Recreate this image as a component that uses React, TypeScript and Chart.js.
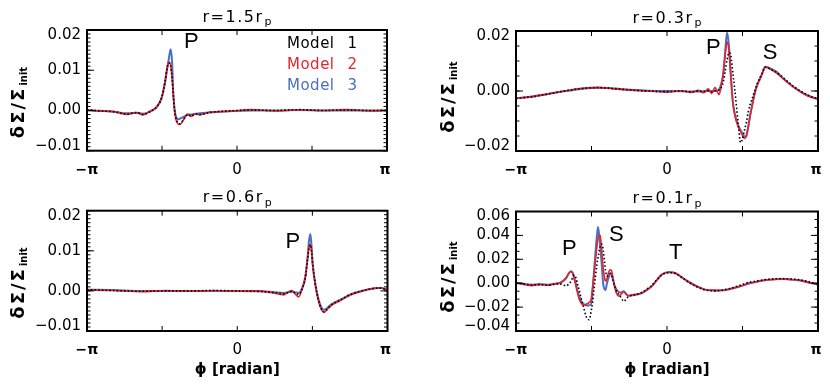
import React, { useEffect, useRef } from "react";
import { Chart, registerables } from "chart.js";

Chart.register(...registerables);

const PI = Math.PI;

// ---------------- shared ----------------
const modelNames = ["Model 1", "Model 2", "Model 3"];
const modelColors = ["#000000", "#e5242b", "#4a6fc3"];
const xTickValues = [-PI, 0, PI];
const xTickLabels = ["\u2212\u03c0", "0", "\u03c0"];
const xTickMarks = [-PI / 2, 0, PI / 2];
const xAxisTitle = "\u03d5 [radian]";
const yTitleMain = "\u03b4\u03a3/\u03a3";
const yTitleSub = "init";

// ---------------- panel A : r = 1.5 rp ----------------
const titleA = ["r=1.5r", "p"];
const yRangeA = [-0.01, 0.02];
const yTicksA = [-0.01, 0, 0.01, 0.02];
const yMinorA = 0.001;
const noteTextA = ["P"];
const notePhiA = [-0.957];
const noteValA = [0.017];
const phiA = [-3.14, -2.87, -2.6, -2.3, -2.1, -1.97, -1.82, -1.68, -1.58, -1.51, -1.46, -1.43, -1.39, -1.36, -1.335, -1.31, -1.28, -1.23, -1.19, -1.12, -1.03, -0.96, -0.88, -0.78, -0.57, -0.15, 0.3, 0.8, 1.3, 1.8, 2.3, 2.8, 3.14];
const m1A = [0.0002, -0.0001, -0.0003, -0.0009, -0.0005, -0.001, -0.0003, 0.0009, 0.0031, 0.0069, 0.0107, 0.0118, 0.0111, 0.0082, 0.0041, 0.0005, -0.0018, -0.0031, -0.0033, -0.0022, -0.001, -0.0014, -0.0009, -0.001, -0.0005, -0.0001, 0.0001, 0.0, 0.0002, 0.0, 0.0001, 0.0, 0.0];
const m2A = [0.0001, -0.0002, -0.0002, -0.001, -0.0005, -0.0011, -0.0002, 0.001, 0.0032, 0.0071, 0.0109, 0.012, 0.0113, 0.008, 0.0038, 0.0002, -0.0022, -0.0034, -0.0035, -0.0023, -0.0009, -0.0015, -0.0008, -0.0011, -0.0004, -0.0002, 0.0002, -0.0001, 0.0001, 0.0, 0.0002, -0.0001, 0.0];
const m3A = [0.0, -0.0001, -0.0003, -0.0007, -0.0006, -0.0008, -0.0003, 0.0008, 0.003, 0.0067, 0.0105, 0.0127, 0.0152, 0.0121, 0.0046, 0.0005, -0.0015, -0.0022, -0.002, -0.0016, -0.0011, -0.001, -0.0008, -0.0007, -0.0005, -0.0002, 0.0, 0.0, 0.0001, 0.0, 0.0, 0.0, 0.0];

// ---------------- panel B : r = 0.3 rp ----------------
const titleB = ["r=0.3r", "p"];
const yRangeB = [-0.02, 0.02];
const yTicksB = [-0.02, 0, 0.02];
const yMinorB = 0.005;
const noteTextB = ["P", "S"];
const notePhiB = [0.963, 2.143];
const noteValB = [0.0145, 0.0126];
const phiB = [-3.14, -2.8, -2.47, -2.1, -1.775, -1.43, -1.08, -0.75, -0.39, 0.0, 0.306, 0.5, 0.651, 0.76, 0.859, 0.93, 0.999, 1.04, 1.082, 1.13, 1.171, 1.21, 1.25, 1.29, 1.33, 1.37, 1.41, 1.45, 1.49, 1.53, 1.57, 1.61, 1.65, 1.69, 1.73, 1.78, 1.83, 1.88, 1.94, 1.99, 2.04, 2.09, 2.14, 2.28, 2.42, 2.63, 2.84, 3.0, 3.14];
const m1B = [-0.0024, -0.0019, -0.001, 0.0001, 0.0008, 0.0011, 0.0008, 0.0003, 0.0, -0.0002, 0.0, -0.0003, 0.0, -0.0002, 0.0001, -0.0002, 0.0001, 0.0001, 0.0003, 0.0012, 0.003, 0.0065, 0.0105, 0.0128, 0.0115, 0.006, 0.0005, -0.0058, -0.012, -0.0172, -0.016, -0.0132, -0.0105, -0.007, -0.0045, -0.0022, 0.0003, 0.0026, 0.0046, 0.0064, 0.0079, 0.0078, 0.0074, 0.0062, 0.0044, 0.0016, -0.0006, -0.0019, -0.0025];
const m2B = [-0.0025, -0.0018, -0.0009, 0.0001, 0.0009, 0.0012, 0.0007, 0.0003, 0.0, -0.0004, 0.0001, -0.0005, 0.0002, -0.0006, 0.0007, -0.0008, 0.0012, -0.0001, -0.0012, 0.0018, 0.006, 0.012, 0.0165, 0.013, 0.0042, -0.004, -0.008, -0.0105, -0.0122, -0.0135, -0.0148, -0.0158, -0.0152, -0.0122, -0.0084, -0.0044, -0.0006, 0.002, 0.0041, 0.0061, 0.0079, 0.0078, 0.0073, 0.006, 0.004, 0.0013, -0.0009, -0.0021, -0.0027];
const m3B = [-0.0024, -0.0019, -0.001, 0.0, 0.0007, 0.0011, 0.0008, 0.0004, 0.0001, 0.0, -0.0001, -0.0002, -0.0002, -0.0001, 0.0, -0.0001, 0.0, 0.0001, 0.0005, 0.0025, 0.0059, 0.013, 0.0195, 0.015, 0.005, -0.0035, -0.0075, -0.01, -0.0118, -0.013, -0.0142, -0.0152, -0.0148, -0.0118, -0.008, -0.004, -0.0003, 0.0022, 0.0043, 0.0063, 0.0081, 0.0079, 0.0076, 0.0064, 0.0042, 0.0014, -0.0008, -0.0019, -0.0027];

// ---------------- panel C : r = 0.6 rp ----------------
const titleC = ["r=0.6r", "p"];
const yRangeC = [-0.01, 0.02];
const yTicksC = [-0.01, 0, 0.01, 0.02];
const yMinorC = 0.001;
const noteTextC = ["P"];
const notePhiC = [1.162];
const noteValC = [0.0123];
const phiC = [-3.14, -2.6, -2.0, -1.5, -1.0, -0.5, 0.0, 0.4, 0.75, 0.97, 1.06, 1.146, 1.22, 1.284, 1.35, 1.424, 1.472, 1.5, 1.529, 1.555, 1.577, 1.634, 1.703, 1.76, 1.808, 1.843, 1.9, 1.984, 2.157, 2.367, 2.576, 2.786, 2.995, 3.14];
const m1C = [0.0003, 0.0001, -0.0001, 0.0, 0.0, 0.0001, 0.0, -0.0001, -0.0004, -0.0007, -0.0004, -0.0001, -0.0006, -0.0009, 0.0003, 0.0033, 0.008, 0.0107, 0.0115, 0.0098, 0.0068, 0.0016, -0.0025, -0.0045, -0.0052, -0.005, -0.0043, -0.0033, -0.0023, -0.0009, -0.0001, 0.0005, 0.0007, 0.0003];
const m2C = [0.0002, 0.0001, -0.0002, 0.0001, -0.0001, 0.0001, -0.0001, 0.0, -0.0005, -0.001, -0.0003, 0.0001, -0.0009, -0.0015, 0.0002, 0.0034, 0.0082, 0.0109, 0.0116, 0.0096, 0.0064, 0.0013, -0.0027, -0.0047, -0.0054, -0.0051, -0.0044, -0.0035, -0.0024, -0.001, -0.0002, 0.0005, 0.0008, 0.0002];
const m3C = [0.0003, 0.0002, 0.0, 0.0, 0.0, 0.0, 0.0, -0.0001, -0.0003, -0.0005, -0.0004, -0.0002, -0.0004, -0.0005, 0.0005, 0.0036, 0.0086, 0.0125, 0.0142, 0.0109, 0.0068, 0.0016, -0.0023, -0.0041, -0.0047, -0.0046, -0.004, -0.0032, -0.0022, -0.0009, -0.0001, 0.0005, 0.0007, 0.0003];

// ---------------- panel D : r = 0.1 rp ----------------
const titleD = ["r=0.1r", "p"];
const yRangeD = [-0.04, 0.06];
const yTicksD = [-0.04, -0.02, 0, 0.02, 0.04, 0.06];
const yMinorD = 0.02 / 3;
const noteTextD = ["P", "S", "T"];
const notePhiD = [-2.033, -1.055, 0.183];
const noteValD = [0.0288, 0.0406, 0.0253];
const phiD = [-3.14, -2.98, -2.815, -2.65, -2.47, -2.35, -2.24, -2.17, -2.1, -2.05, -2.0, -1.96, -1.93, -1.89, -1.86, -1.825, -1.79, -1.754, -1.72, -1.69, -1.65, -1.62, -1.58, -1.55, -1.52, -1.49, -1.46, -1.436, -1.41, -1.39, -1.37, -1.35, -1.325, -1.3, -1.28, -1.255, -1.22, -1.19, -1.165, -1.13, -1.09, -1.05, -1.0, -0.95, -0.91, -0.89, -0.85, -0.8, -0.7, -0.6, -0.53, -0.42, -0.32, -0.21, -0.11, 0.03, 0.17, 0.3, 0.44, 0.62, 0.79, 1.0, 1.17, 1.35, 1.52, 1.69, 1.86, 2.04, 2.21, 2.39, 2.56, 2.73, 2.94, 3.14];
const m1D = [0.0003, -0.0006, -0.0015, -0.0012, -0.0016, -0.001, -0.0005, -0.0012, -0.0022, -0.001, 0.0015, 0.005, 0.0068, 0.004, -0.001, -0.006, -0.012, -0.0175, -0.0225, -0.027, -0.03, -0.0305, -0.024, -0.0165, -0.006, 0.005, 0.015, 0.021, 0.027, 0.031, 0.0325, 0.0326, 0.027, 0.018, 0.011, 0.006, 0.006, 0.008, 0.0075, 0.003, -0.0025, -0.0065, -0.0095, -0.0125, -0.0148, -0.0151, -0.013, -0.0112, -0.01, -0.009, -0.0078, -0.005, -0.002, 0.003, 0.0068, 0.0088, 0.0082, 0.005, 0.001, -0.003, -0.0056, -0.0064, -0.0056, -0.004, -0.0018, 0.0006, 0.0018, 0.003, 0.0036, 0.0038, 0.0036, 0.003, 0.0014, -0.0008];
const m2D = [0.0004, -0.001, -0.002, -0.0008, -0.0018, -0.0004, 0.0002, 0.0018, 0.0045, 0.008, 0.0098, 0.008, 0.0035, -0.003, -0.0085, -0.0135, -0.0165, -0.018, -0.0183, -0.0178, -0.017, -0.016, -0.014, -0.004, 0.007, 0.018, 0.03, 0.037, 0.04, 0.04, 0.033, 0.023, 0.012, 0.0045, 0.0018, 0.003, 0.0085, 0.011, 0.0113, 0.006, -0.003, -0.0085, -0.0108, -0.009, -0.0072, -0.0075, -0.0092, -0.0105, -0.0095, -0.009, -0.0082, -0.0055, -0.0028, 0.0028, 0.0074, 0.0094, 0.0086, 0.0052, 0.0012, -0.0028, -0.0052, -0.0058, -0.006, -0.0042, -0.0028, 0.0, 0.001, 0.0027, 0.003, 0.0036, 0.003, 0.0027, 0.0005, -0.001];
const m3D = [0.0002, -0.0005, -0.0012, -0.001, -0.0012, -0.0006, 0.0, 0.0015, 0.004, 0.0075, 0.01, 0.0085, 0.0045, -0.0015, -0.0065, -0.0112, -0.0145, -0.0167, -0.0178, -0.0184, -0.0187, -0.0185, -0.0175, -0.007, 0.009, 0.0245, 0.039, 0.047, 0.04, 0.031, 0.022, 0.011, -0.0015, -0.005, -0.0057, -0.001, 0.004, 0.0075, 0.0085, 0.004, -0.002, -0.0054, -0.0075, -0.0078, -0.0068, -0.007, -0.009, -0.0105, -0.01, -0.0092, -0.0085, -0.0058, -0.0026, 0.0025, 0.0071, 0.0091, 0.0085, 0.005, 0.0016, -0.0025, -0.0054, -0.0063, -0.0058, -0.0046, -0.0025, -0.0004, 0.0012, 0.0024, 0.0032, 0.0035, 0.0032, 0.0024, 0.0008, -0.0012];

// ---------------- assembled panel tables ----------------
const panels = [
  { title: titleA, yRange: yRangeA, yTicks: yTicksA, yMinor: yMinorA, phi: phiA, models: [m1A, m2A, m3A], notes: [noteTextA, notePhiA, noteValA] },
  { title: titleB, yRange: yRangeB, yTicks: yTicksB, yMinor: yMinorB, phi: phiB, models: [m1B, m2B, m3B], notes: [noteTextB, notePhiB, noteValB] },
  { title: titleC, yRange: yRangeC, yTicks: yTicksC, yMinor: yMinorC, phi: phiC, models: [m1C, m2C, m3C], notes: [noteTextC, notePhiC, noteValC] },
  { title: titleD, yRange: yRangeD, yTicks: yTicksD, yMinor: yMinorD, phi: phiD, models: [m1D, m2D, m3D], notes: [noteTextD, notePhiD, noteValD] },
];

// layout (pixels, page coordinates)
const W = 830;
const H = 386;
const layouts = [
  { pad: { left: 87, top: 30, right: 443, bottom: 235.3 }, yTitle: [18, 102.5], legend: true, xTitle: false },
  { pad: { left: 516, top: 31, right: 12, bottom: 235 }, yTitle: [448, 97], legend: false, xTitle: false },
  { pad: { left: 87, top: 210.7, right: 442.5, bottom: 55 }, yTitle: [18, 283], legend: false, xTitle: true },
  { pad: { left: 516, top: 211.5, right: 12, bottom: 55 }, yTitle: [448, 277], legend: false, xTitle: true },
];

const lineStyles = [
  { width: 1.6, dash: [1.5, 2.2] },
  { width: 1.6, dash: [] },
  { width: 2, dash: [] },
];

function fmtTick(v: number) {
  if (Math.abs(v) < 1e-12) return "0.00";
  return (v < 0 ? "\u2212" : "") + Math.abs(v).toFixed(2);
}

function drawSub(ctx: any, main: string, sub: string, x: number, y: number, mainFont: string, subFont: string, subDy: number, mainSpacing: string) {
  ctx.letterSpacing = mainSpacing;
  ctx.font = mainFont;
  const w1 = ctx.measureText(main).width;
  ctx.letterSpacing = "0px";
  ctx.font = subFont;
  const w2 = ctx.measureText(sub).width;
  const total = w1 + w2 + 1;
  const sx = x - total / 2;
  ctx.textAlign = "left";
  ctx.letterSpacing = mainSpacing;
  ctx.font = mainFont;
  ctx.fillText(main, sx, y);
  ctx.letterSpacing = "0px";
  ctx.font = subFont;
  ctx.fillText(sub, sx + w1 + 1, y + subDy);
}

function makeDecor(p: any, L: any, idx: number) {
  return {
    id: "decor" + idx,
    afterDraw(chart: any) {
      const ctx = chart.ctx;
      const ca = chart.chartArea;
      const xs = chart.scales.x;
      const ys = chart.scales.y;
      ctx.save();
      ctx.strokeStyle = "#000";
      ctx.fillStyle = "#000";
      // ticks
      ctx.lineWidth = 1;
      ctx.beginPath();
      const n0 = Math.ceil(p.yRange[0] / p.yMinor - 1e-6);
      const n1 = Math.floor(p.yRange[1] / p.yMinor + 1e-6);
      for (let k = n0; k <= n1; k++) {
        const py = ys.getPixelForValue(k * p.yMinor);
        ctx.moveTo(ca.left, py);
        ctx.lineTo(ca.left + 3.5, py);
        ctx.moveTo(ca.right, py);
        ctx.lineTo(ca.right - 3.5, py);
      }
      p.yTicks.forEach((v: number) => {
        const py = ys.getPixelForValue(v);
        ctx.moveTo(ca.left, py);
        ctx.lineTo(ca.left + 7, py);
        ctx.moveTo(ca.right, py);
        ctx.lineTo(ca.right - 7, py);
      });
      xTickMarks.forEach((v) => {
        const px = xs.getPixelForValue(v);
        ctx.moveTo(px, ca.bottom);
        ctx.lineTo(px, ca.bottom - 5);
        ctx.moveTo(px, ca.top);
        ctx.lineTo(px, ca.top + 5);
      });
      ctx.stroke();
      // box
      ctx.lineWidth = 2;
      ctx.strokeRect(ca.left, ca.top, ca.right - ca.left, ca.bottom - ca.top);

      // y tick labels
      ctx.font = '15px "DejaVu Sans"';
      ctx.textAlign = "right";
      ctx.textBaseline = "middle";
      p.yTicks.forEach((v: number) => {
        let py = ys.getPixelForValue(v);
        if (Math.abs(py - ca.top) < 1) py += 5;
        if (Math.abs(py - ca.bottom) < 1) py -= 4.5;
        ctx.fillText(fmtTick(v), ca.left - 6, py);
      });
      // x tick labels
      ctx.textAlign = "center";
      xTickValues.forEach((v, i) => {
        let px = xs.getPixelForValue(v);
        if (Math.abs(px - ca.right) < 1) px -= 2;
        ctx.font = v === 0 ? '15px "DejaVu Sans"' : 'bold 14px "DejaVu Sans"';
        ctx.fillText(xTickLabels[i], px, ca.bottom + 19.5);
      });

      // title
      ctx.textBaseline = "alphabetic";
      drawSub(ctx, p.title[0], p.title[1], (ca.left + ca.right) / 2, ca.top - 8.3, '16px "DejaVu Sans"', '11px "DejaVu Sans"', 3.5, "1.5px");

      // y axis title (rotated)
      ctx.save();
      ctx.translate(L.yTitle[0], L.yTitle[1]);
      ctx.rotate(-PI / 2);
      drawSub(ctx, yTitleMain, yTitleSub, 0, 6, 'bold 18px "DejaVu Sans"', 'bold 10px "DejaVu Sans"', 2.5, "2px");
      ctx.restore();

      // x axis title
      if (L.xTitle) {
        ctx.font = 'bold 15px "DejaVu Sans"';
        ctx.textAlign = "center";
        ctx.textBaseline = "middle";
        ctx.fillText(xAxisTitle, (ca.left + ca.right) / 2, ca.bottom + 39);
      }

      // annotations
      ctx.font = '22px "Liberation Sans"';
      ctx.textAlign = "center";
      ctx.textBaseline = "middle";
      p.notes[0].forEach((t: string, i: number) => {
        ctx.fillText(t, xs.getPixelForValue(p.notes[1][i]), ys.getPixelForValue(p.notes[2][i]));
      });

      // legend
      if (L.legend) {
        ctx.font = '15px "DejaVu Sans"';
        ctx.letterSpacing = "0.5px";
        ctx.textBaseline = "middle";
        modelNames.forEach((name, i) => {
          const parts = name.split(" ");
          const y = ca.top + 14 + i * 21;
          ctx.fillStyle = modelColors[i];
          ctx.textAlign = "left";
          ctx.fillText(parts[0], ca.right - 100, y);
          ctx.textAlign = "center";
          ctx.fillText(parts[1], ca.right - 34.5, y);
        });
        ctx.letterSpacing = "0px";
      }
      ctx.restore();
    },
  };
}

function Panel({ idx }: { idx: number }) {
  const ref = useRef<HTMLCanvasElement>(null);
  useEffect(() => {
    const p = panels[idx];
    const L = layouts[idx];
    const datasets = p.models.map((m, k) => ({
      label: modelNames[k],
      data: p.phi.map((x, i) => ({ x, y: m[i] })),
      borderColor: modelColors[k],
      borderWidth: lineStyles[k].width,
      borderDash: lineStyles[k].dash,
      pointRadius: 0,
      fill: false,
      cubicInterpolationMode: "monotone" as const,
    }));
    const chart = new Chart(ref.current as HTMLCanvasElement, {
      type: "line",
      data: { datasets },
      options: {
        responsive: false,
        animation: false,
        devicePixelRatio: 1,
        layout: { padding: L.pad },
        scales: {
          x: { type: "linear", min: -PI, max: PI, display: false },
          y: { type: "linear", min: p.yRange[0], max: p.yRange[1], display: false },
        },
        plugins: { legend: { display: false }, tooltip: { enabled: false } },
        events: [],
      },
      plugins: [makeDecor(p, L, idx)],
    });
    return () => chart.destroy();
  }, [idx]);
  return (
    <canvas
      ref={ref}
      width={W}
      height={H}
      style={{ position: "absolute", left: 0, top: 0, width: W, height: H }}
    />
  );
}

export default function App() {
  return (
    <div style={{ position: "absolute", left: 0, top: 0, width: W, height: H, background: "#fff", overflow: "hidden" }}>
      {panels.map((_, i) => (
        <Panel key={i} idx={i} />
      ))}
    </div>
  );
}
